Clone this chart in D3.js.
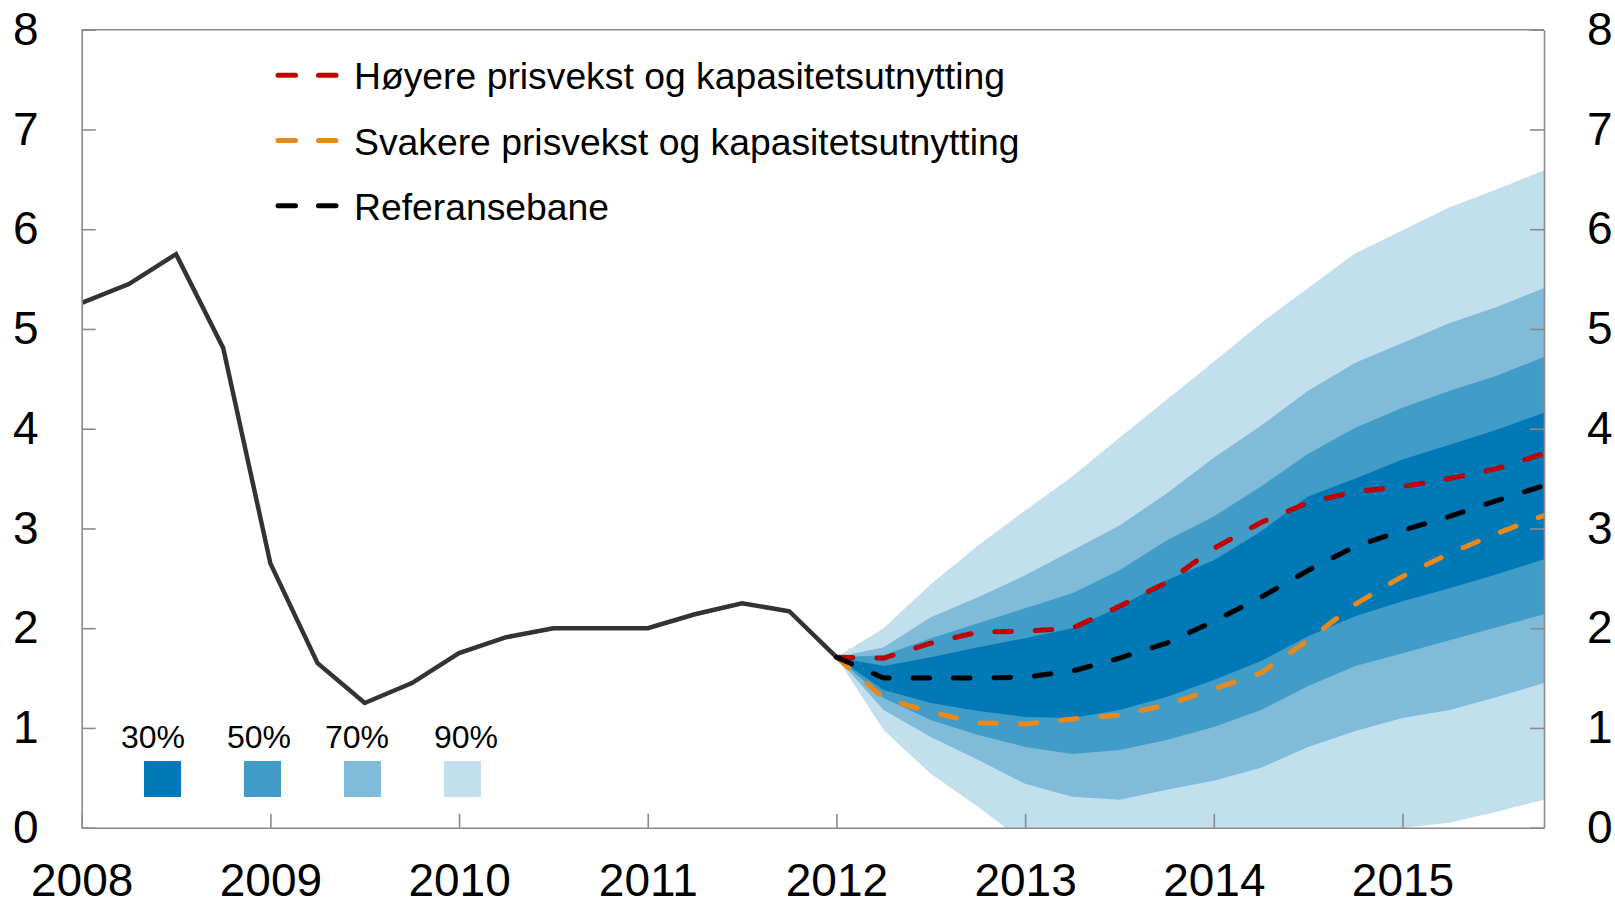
<!DOCTYPE html>
<html>
<head>
<meta charset="utf-8">
<script src="https://cdn.jsdelivr.net/npm/d3@7"></script>
<style>
  body { margin: 0; background: #fff; }
  svg { display: block; font-family: Arial, "Liberation Sans", sans-serif; }
</style>
</head>
<body>
<svg></svg>
<script>
// historical key policy rate, quarterly
const histQuarters = ["2008Q1", "2008Q2", "2008Q3", "2008Q4", "2009Q1", "2009Q2", "2009Q3", "2009Q4",
  "2010Q1", "2010Q2", "2010Q3", "2010Q4", "2011Q1", "2011Q2", "2011Q3", "2011Q4", "2012Q1"];
const histValues = [5.26, 5.45, 5.75, 4.81, 2.65, 1.65, 1.25, 1.45,
  1.75, 1.91, 2.00, 2.00, 2.00, 2.14, 2.25, 2.17, 1.71];

// forecast period
const fanQuarters = ["2012Q1", "2012Q2", "2012Q3", "2012Q4", "2013Q1", "2013Q2", "2013Q3", "2013Q4",
  "2014Q1", "2014Q2", "2014Q3", "2014Q4", "2015Q1", "2015Q2", "2015Q3", "2015Q4"];

// fan chart bands (lower / upper)
const band90Upper = [1.71, 2.00, 2.44, 2.83, 3.18, 3.52, 3.91, 4.29, 4.67, 5.06, 5.41, 5.76, 5.99, 6.22, 6.40, 6.59];
const band70Upper = [1.71, 1.81, 2.11, 2.31, 2.53, 2.78, 3.03, 3.35, 3.71, 4.03, 4.38, 4.66, 4.86, 5.06, 5.22, 5.41];
const band50Upper = [1.71, 1.73, 1.90, 2.05, 2.20, 2.35, 2.58, 2.88, 3.12, 3.42, 3.75, 4.01, 4.21, 4.38, 4.53, 4.72];
const band30Upper = [1.71, 1.62, 1.71, 1.81, 1.90, 2.00, 2.21, 2.48, 2.68, 2.97, 3.32, 3.50, 3.69, 3.84, 3.99, 4.16];
const band30Lower = [1.71, 1.38, 1.25, 1.17, 1.11, 1.10, 1.18, 1.31, 1.48, 1.67, 1.92, 2.12, 2.27, 2.40, 2.54, 2.69];
const band50Lower = [1.71, 1.30, 1.08, 0.93, 0.81, 0.74, 0.78, 0.88, 1.01, 1.18, 1.42, 1.62, 1.75, 1.88, 2.01, 2.14];
const band70Lower = [1.71, 1.18, 0.91, 0.68, 0.44, 0.31, 0.28, 0.38, 0.47, 0.60, 0.81, 0.97, 1.10, 1.18, 1.31, 1.45];
const band90Lower = [1.71, 0.98, 0.54, 0.21, -0.15, -0.35, -0.42, -0.40, -0.35, -0.28, -0.20, -0.10, 0.00, 0.05, 0.16, 0.28];

// scenario paths
const highPath = [1.71, 1.70, 1.85, 1.96, 1.97, 2.00, 2.22, 2.46, 2.80, 3.06, 3.26, 3.37, 3.42, 3.50, 3.60, 3.75];
const lowPath  = [1.71, 1.30, 1.16, 1.05, 1.04, 1.09, 1.13, 1.23, 1.39, 1.55, 1.88, 2.24, 2.52, 2.75, 2.95, 3.13];
const refPath  = [1.71, 1.50, 1.50, 1.50, 1.51, 1.57, 1.70, 1.85, 2.07, 2.31, 2.58, 2.82, 2.98, 3.12, 3.28, 3.43];

const yTicks = [0, 1, 2, 3, 4, 5, 6, 7, 8];
const xTickYears = [2008, 2009, 2010, 2011, 2012, 2013, 2014, 2015];
const bandLabels = ["30%", "50%", "70%", "90%"];
const bandColors = ["#0179b6", "#429cc8", "#80bbd9", "#c2dfee"];
const legendLabels = ["Høyere prisvekst og kapasitetsutnytting", "Svakere prisvekst og kapasitetsutnytting", "Referansebane"];
const lineColors = ["#c00000", "#e8891c", "#000000"];

// size of the svg and the plot area
const width = 1615;
const height = 906;
const plotLeft = 81.7, plotRight = 1544, plotTop = 29.7, plotBottom = 827.7;

const svg = d3.select("svg").attr("width", width).attr("height", height);

// "2012Q3" -> 2012.5
const toYear = (q) => +q.slice(0, 4) + (+q.slice(5) - 1) / 4;

const x = d3.scaleLinear().domain([2008, 2015.75]).range([plotLeft, plotRight]);
const y = d3.scaleLinear().domain([0, 8]).range([plotBottom, plotTop]);

svg.append("clipPath").attr("id", "plot-clip")
  .append("rect")
  .attr("x", plotLeft).attr("y", plotTop)
  .attr("width", plotRight - plotLeft).attr("height", plotBottom - plotTop);

const plot = svg.append("g").attr("clip-path", "url(#plot-clip)");

// fan bands, widest first
const bands = [
  { lo: band90Lower, hi: band90Upper, color: bandColors[3] },
  { lo: band70Lower, hi: band70Upper, color: bandColors[2] },
  { lo: band50Lower, hi: band50Upper, color: bandColors[1] },
  { lo: band30Lower, hi: band30Upper, color: bandColors[0] }
];

const area = d3.area()
  .x((d) => x(d.t))
  .y0((d) => y(d.lo))
  .y1((d) => y(d.hi));

bands.forEach((b) => {
  const rows = fanQuarters.map((q, i) => ({ t: toYear(q), lo: b.lo[i], hi: b.hi[i] }));
  plot.append("path")
    .datum(rows)
    .attr("d", area)
    .attr("fill", b.color);
});

const line = d3.line()
  .x((d) => x(d.t))
  .y((d) => y(d.v));

// historical line
plot.append("path")
  .datum(histQuarters.map((q, i) => ({ t: toYear(q), v: histValues[i] })))
  .attr("d", line)
  .attr("fill", "none")
  .attr("stroke", "#333333")
  .attr("stroke-width", 4.5);

// dashed scenario lines
[highPath, lowPath, refPath].forEach((path, k) => {
  plot.append("path")
    .datum(fanQuarters.map((q, i) => ({ t: toYear(q), v: path[i] })))
    .attr("d", line)
    .attr("fill", "none")
    .attr("stroke", lineColors[k])
    .attr("stroke-width", 5)
    .attr("stroke-linecap", "round")
    .attr("stroke-dasharray", "16.5,24");
});

// axes
const axisColor = "#8a8a8a";
const styleAxis = (g) => {
  g.attr("font-family", null).attr("font-size", null);
  g.select(".domain").attr("stroke", axisColor).attr("stroke-width", 1.6);
  g.selectAll(".tick line").attr("stroke", axisColor).attr("stroke-width", 1.6);
  g.selectAll(".tick text").attr("fill", "#000").style("font-size", "46px");
};

svg.append("g")
  .attr("transform", `translate(${plotLeft},0)`)
  .call(d3.axisLeft(y).tickValues(yTicks).tickSize(-14).tickSizeOuter(0).tickPadding(43).tickFormat(d3.format("d")))
  .call(styleAxis);

svg.append("g")
  .attr("transform", `translate(${plotRight},0)`)
  .call(d3.axisRight(y).tickValues(yTicks).tickSize(-14).tickSizeOuter(0).tickPadding(43).tickFormat(d3.format("d")))
  .call(styleAxis);

// year labels kept just inside the bottom edge
svg.append("g")
  .attr("transform", `translate(0,${plotBottom})`)
  .call(d3.axisBottom(x).tickValues(xTickYears).tickSize(-14).tickSizeOuter(0).tickPadding(36).tickFormat(d3.format("d")))
  .call(styleAxis);

// top border
svg.append("line")
  .attr("x1", plotLeft).attr("x2", plotRight)
  .attr("y1", plotTop).attr("y2", plotTop)
  .attr("stroke", axisColor).attr("stroke-width", 1.6);

// legend for the dashed lines
const legend = svg.append("g");
legendLabels.forEach((label, i) => {
  const yy = 75.3 + i * 65.2;
  legend.append("line")
    .attr("x1", 278).attr("x2", 336)
    .attr("y1", yy).attr("y2", yy)
    .attr("stroke", lineColors[i])
    .attr("stroke-width", 5)
    .attr("stroke-linecap", "round")
    .attr("stroke-dasharray", "17.5,23");
  legend.append("text")
    .attr("x", 354)
    .attr("y", yy + 14)
    .style("font-size", "37.3px")
    .attr("fill", "#000")
    .text(label);
});

// legend for the fan bands
const labelCenters = [153, 259, 357, 466];
bandLabels.forEach((label, i) => {
  legend.append("rect")
    .attr("x", 144 + i * 100)
    .attr("y", 761)
    .attr("width", 37)
    .attr("height", 36)
    .attr("fill", bandColors[i]);
  legend.append("text")
    .attr("x", labelCenters[i])
    .attr("y", 748)
    .attr("text-anchor", "middle")
    .style("font-size", "32px")
    .attr("fill", "#000")
    .text(label);
});
</script>
</body>
</html>
